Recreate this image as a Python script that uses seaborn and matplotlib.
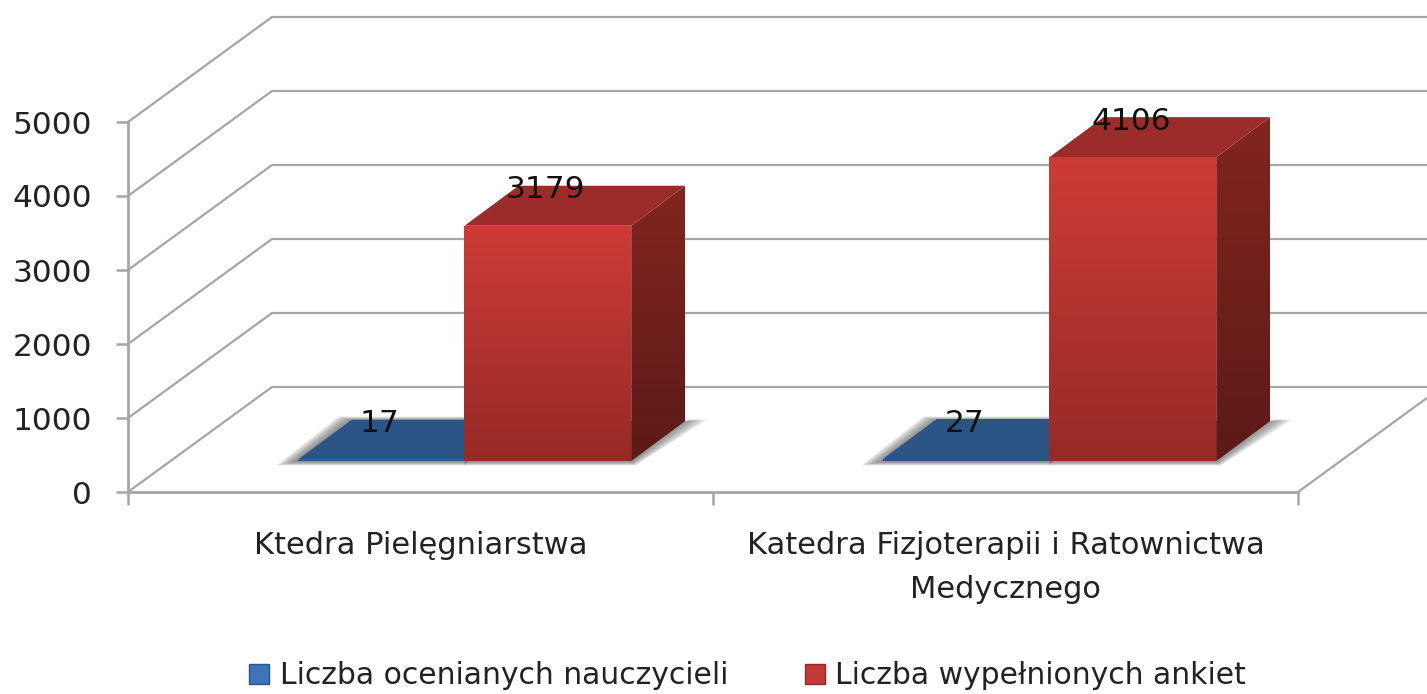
import numpy as np
import pandas as pd
import seaborn as sns
import matplotlib.pyplot as plt
from matplotlib.colors import LinearSegmentedColormap
from matplotlib.lines import Line2D
from matplotlib.patches import Polygon
from matplotlib.transforms import Affine2D, IdentityTransform

categories = ["Ktedra Pielęgniarstwa", "Katedra Fizjoterapii i Ratownictwa\nMedycznego"]
series_names = ["Liczba ocenianych nauczycieli", "Liczba wypełnionych ankiet"]
teachers = [17, 27]
surveys = [3179, 4106]
y_ticks = [0, 1000, 2000, 3000, 4000, 5000]

W, H = 1427, 694
GRID = "#a6a6a6"
# depth of the fake 3d box, in pixels
WALL = (144, 105)
BAR_FRONT = (44, 31)
BAR_DEPTH = (54, 40)

df = pd.DataFrame({
    "cat": categories * 2,
    "value": teachers + surveys,
    "series": [series_names[0]] * 2 + [series_names[1]] * 2,
})

sns.set_style("white")
plt.rcParams["font.family"] = ["DejaVu Sans"]

fig = plt.figure(figsize=(W / 100, H / 100), dpi=100)
ax = fig.add_axes([128 / W, (H - 492) / H, 1170 / W, 370 / H])
sns.barplot(data=df, x="cat", y="value", hue="series", hue_order=series_names,
            palette=["#2b5587", "#a93330"], width=0.57, gap=0, saturation=1,
            legend=False, ax=ax, zorder=4, linewidth=0)
ax.set_xlim(-0.5, 1.5)
ax.set_ylim(0, 5000)
ax.set_autoscale_on(False)
ax.set_xlabel("")
ax.set_ylabel("")

ax.set_yticks(y_ticks)
ax.set_xticks([0, 1])
ax.set_xticklabels(categories, linespacing=1.66)
ax.set_xticks([-0.5, 0.5, 1.5], minor=True)
ax.tick_params(axis="y", length=9, width=1.8, color=GRID, labelsize=22.5, pad=17,
               left=True, labelcolor="#222222")
ax.tick_params(axis="x", which="major", length=0, labelsize=22, pad=28, labelcolor="#222222")
ax.tick_params(axis="x", which="minor", length=9, width=1.8, color=GRID, bottom=True)
for name in ["top", "right"]:
    ax.spines[name].set_visible(False)
for name in ["left", "bottom"]:
    ax.spines[name].set_color(GRID)
    ax.spines[name].set_linewidth(2)


def disp(x, v, off=(0, 0)):
    px, py = ax.transData.transform((x, v))
    return px + off[0], py + off[1]


def poly(points, color, z, alpha=1):
    ax.add_patch(Polygon(points, closed=True, facecolor=color, edgecolor="none", alpha=alpha,
                         transform=IdentityTransform(), clip_on=False, zorder=z))


def gradient_poly(points, top, bottom, z):
    # vertical colour ramp clipped to the polygon
    pts = np.array(points)
    cmap = LinearSegmentedColormap.from_list("ramp", [bottom, top])
    ramp = np.linspace(1, 0, 64).reshape(-1, 1)
    im = ax.imshow(ramp, cmap=cmap, vmin=0, vmax=1, aspect="auto", zorder=z,
                   extent=(pts[:, 0].min(), pts[:, 0].max(), pts[:, 1].min(), pts[:, 1].max()),
                   transform=IdentityTransform())
    im.set_clip_box(fig.bbox)
    im.set_clip_path(Polygon(points, closed=True, transform=IdentityTransform()))


# walls and floor
x0, x1 = ax.get_xlim()
for v in y_ticks:
    a, b, c = disp(x0, v), disp(x0, v, WALL), disp(x1, v, WALL)
    ax.plot([a[0], b[0], c[0]], [a[1], b[1], c[1]], color=GRID, lw=1.6,
            transform=IdentityTransform(), clip_on=False, zorder=1)
a, b = disp(x1, 0), disp(x1, 0, WALL)
ax.plot([a[0], b[0]], [a[1], b[1]], color=GRID, lw=1.6,
        transform=IdentityTransform(), clip_on=False, zorder=1)

# shift the seaborn bars back to the floor and add the side and top faces
shift = ax.transData + Affine2D().translate(*BAR_FRONT)
for i, bar in enumerate(ax.patches):
    bar.set_transform(shift)
    bar.set_clip_on(False)
    left, right = bar.get_x(), bar.get_x() + bar.get_width()
    val = bar.get_height()
    is_red = i >= 2
    base = 4 if not is_red else 6

    fl = disp(left, 0, BAR_FRONT)
    fr = disp(right, 0, BAR_FRONT)
    tl = disp(left, val, BAR_FRONT)
    tr = disp(right, val, BAR_FRONT)
    back = lambda p: (p[0] + BAR_DEPTH[0], p[1] + BAR_DEPTH[1])

    # soft shadow on the floor
    for k in range(1, 10):
        if is_red:
            pts = [(fl[0], fl[1] - k / 2), (fr[0] + k / 2, fr[1] - k / 2),
                   (back(fr)[0] + k * 2.4, back(fr)[1] + 4 - k / 3), back(fr),
                   (fl[0], back(fr)[1])]
        else:
            pts = [(fl[0] - k * 2.4, fl[1] - k / 2), (fr[0], fr[1] - k / 2),
                   (back(fr)[0], back(fr)[1] + k / 2),
                   (back(fl)[0] - k * 1.5, back(fl)[1] + k / 2)]
        poly(pts, "#666666", 2, alpha=0.13)

    bar.set_zorder(base)
    if is_red:
        gradient_poly([fl, fr, tr, tl], "#cd3b37", "#972a26", base + 0.5)
        gradient_poly([fr, back(fr), back(tr), tr], "#82251f", "#5c1a17", base + 0.5)
        poly([tl, tr, back(tr), back(tl)], "#9c2c29", base + 0.6)
    else:
        poly([tl, tr, back(tr), back(tl)], "#2b5587", base + 0.5)

    # value label sits above the front face
    ax.text((left + right) / 2, val, str(int(val)), fontsize=22.5, color="#111111",
            ha="center", va="center", zorder=9,
            transform=shift + Affine2D().translate(-2, 36), clip_on=False)

handles = [Line2D([], [], linestyle="none", marker="s", markersize=15, color=c,
                  markeredgecolor=e) for c, e in [("#3d75b8", "#2b5587"), ("#c23a36", "#8f2a27")]]
fig.legend(handles, series_names, loc="center", bbox_to_anchor=(745 / W, (H - 676) / H), ncol=2,
           frameon=False, fontsize=21.5, labelcolor="#222222", columnspacing=2.4,
           handlelength=1, handletextpad=0.2, borderpad=0)

fig.savefig("out.png", dpi=100)
